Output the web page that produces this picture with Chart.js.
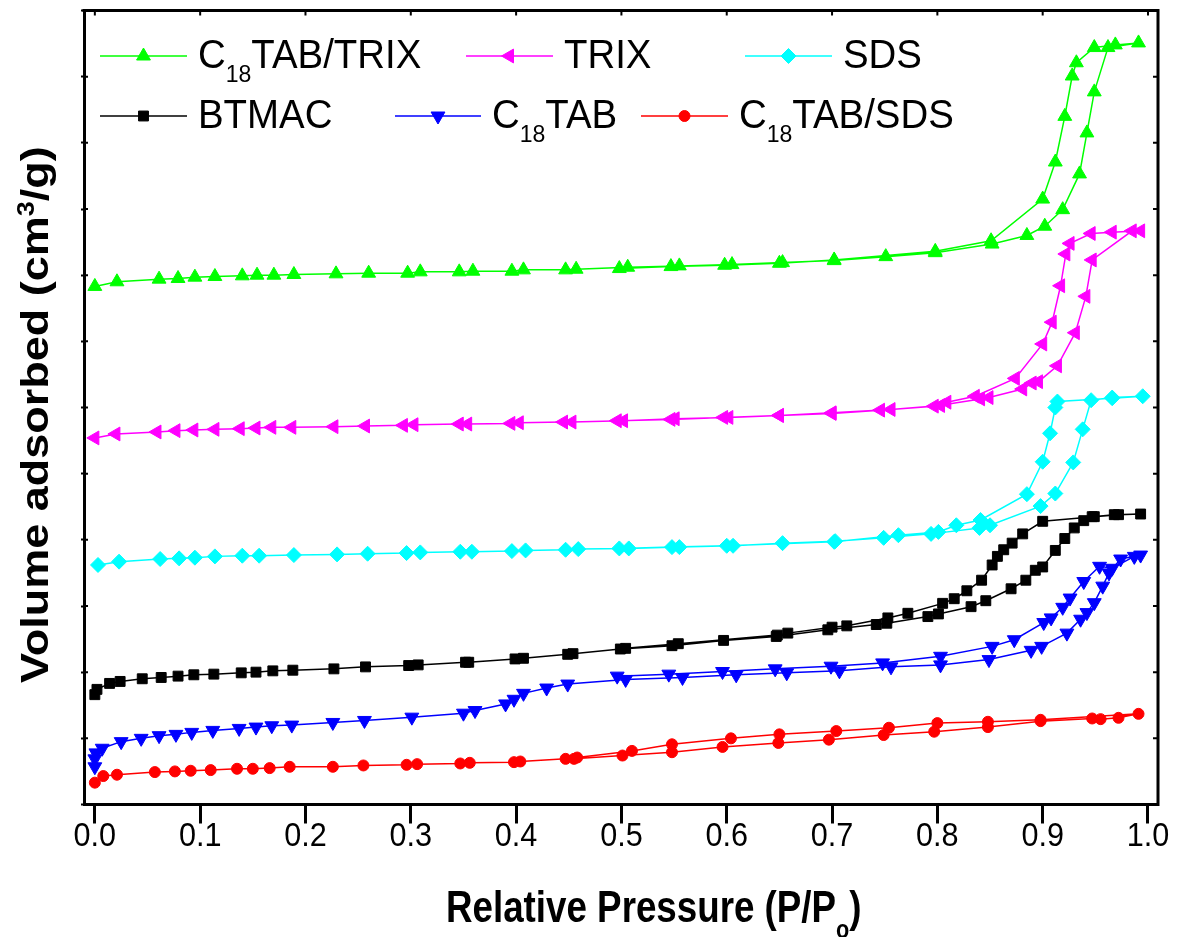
<!DOCTYPE html>
<html>
<head>
<meta charset="utf-8">
<script src="https://cdn.jsdelivr.net/npm/chart.js@4.4.0/dist/chart.umd.min.js"></script>
<style>
  html, body { margin: 0; padding: 0; background: #fff; }
  #wrap { width: 1179px; height: 937px; }
</style>
</head>
<body>
<div id="wrap"><canvas id="isotermas" width="1179" height="937"></canvas></div>
<script>
// Eixos
const pressaoTicks = [0, 0.1, 0.2, 0.3, 0.4, 0.5, 0.6, 0.7, 0.8, 0.9, 1.0];
const volumeTicks = [0, 1, 2, 3, 4, 5, 6, 7, 8, 9, 10, 11, 12];

// C18TAB/TRIX (adsorcao e depois dessorcao)
const c18trixP = [0.000,0.021,0.061,0.079,0.095,0.114,0.140,0.154,0.170,0.189,0.229,0.260,0.297,0.309,0.346,0.359,0.396,0.407,0.447,0.457,0.506,0.555,0.605,0.653,0.702,0.751,0.798,0.852,0.885,0.902,0.919,0.935,0.942,0.949,0.962,0.991,
  0.969,0.949,0.932,0.928,0.921,0.912,0.900,0.851,0.798,0.702,0.650,0.598,0.547,0.498];
const c18trixV = [7.83,7.90,7.94,7.95,7.97,7.98,7.99,8.00,8.00,8.01,8.02,8.03,8.03,8.05,8.05,8.06,8.06,8.08,8.08,8.09,8.12,8.14,8.16,8.19,8.22,8.28,8.34,8.47,8.60,8.74,8.99,9.53,10.15,10.77,11.44,11.51,
  11.48,11.44,11.21,11.01,10.40,9.71,9.15,8.52,8.36,8.23,8.18,8.15,8.13,8.10];

// TRIX
const trixP = [0.000,0.020,0.059,0.077,0.094,0.114,0.138,0.153,0.168,0.187,0.227,0.257,0.293,0.303,0.346,0.354,0.395,0.403,0.445,0.453,0.502,0.551,0.602,0.650,0.700,0.746,0.797,0.841,0.849,0.881,0.890,0.896,0.914,0.931,0.941,0.947,0.985,0.993,
  0.966,0.946,0.926,0.922,0.917,0.909,0.900,0.874,0.836,0.809,0.803,0.756,0.700,0.650,0.597,0.547,0.496];
const trixV = [5.54,5.60,5.63,5.65,5.66,5.67,5.68,5.69,5.70,5.70,5.71,5.72,5.73,5.74,5.75,5.75,5.76,5.77,5.78,5.78,5.80,5.83,5.85,5.88,5.91,5.96,6.02,6.13,6.15,6.28,6.37,6.39,6.63,7.13,7.68,8.23,8.67,8.67,
  8.65,8.63,8.48,8.32,7.84,7.29,6.96,6.44,6.17,6.08,6.03,5.97,5.92,5.88,5.85,5.82,5.80];

// SDS
const sdsP = [0.003,0.023,0.062,0.080,0.095,0.114,0.140,0.156,0.189,0.230,0.259,0.296,0.309,0.347,0.358,0.396,0.409,0.447,0.459,0.507,0.555,0.606,0.653,0.703,0.749,0.794,0.840,0.850,0.898,0.912,0.929,0.938,0.946,0.966,0.995,
  0.966,0.914,0.912,0.907,0.900,0.885,0.841,0.818,0.801,0.763,0.702,0.600,0.548,0.498];
const sdsV = [3.62,3.67,3.71,3.72,3.73,3.75,3.76,3.76,3.77,3.78,3.79,3.80,3.81,3.82,3.82,3.83,3.84,3.85,3.86,3.87,3.89,3.91,3.95,3.98,4.03,4.09,4.18,4.22,4.51,4.70,5.17,5.67,6.11,6.15,6.17,
  6.14,6.09,6.00,5.61,5.18,4.69,4.30,4.22,4.12,4.07,3.97,3.91,3.89,3.87];

// BTMAC
const btmacP = [0.000,0.002,0.014,0.024,0.045,0.063,0.079,0.094,0.113,0.139,0.153,0.169,0.188,0.227,0.257,0.298,0.307,0.352,0.355,0.399,0.407,0.449,0.454,0.499,0.548,0.597,0.647,0.696,0.742,0.752,0.791,0.801,0.832,0.846,0.870,0.884,0.893,0.900,0.912,0.921,0.930,0.939,0.947,0.968,0.993,
  0.972,0.949,0.900,0.881,0.871,0.863,0.857,0.852,0.842,0.828,0.816,0.805,0.772,0.753,0.714,0.700,0.658,0.648,0.554,0.504];
const btmacV = [1.66,1.74,1.83,1.86,1.90,1.92,1.94,1.96,1.97,1.99,2.00,2.02,2.03,2.05,2.08,2.10,2.11,2.15,2.15,2.20,2.21,2.27,2.28,2.35,2.40,2.48,2.54,2.64,2.72,2.74,2.84,2.88,2.99,3.08,3.26,3.39,3.54,3.59,3.84,4.02,4.18,4.29,4.35,4.38,4.39,
  4.38,4.35,4.28,4.09,3.95,3.85,3.75,3.62,3.39,3.23,3.11,3.04,2.89,2.82,2.70,2.68,2.59,2.56,2.43,2.36];

// C18TAB
const c18tabP = [0.000,0.000,0.001,0.007,0.025,0.044,0.061,0.077,0.092,0.112,0.137,0.153,0.168,0.187,0.226,0.256,0.301,0.350,0.361,0.390,0.398,0.407,0.429,0.449,0.504,0.558,0.609,0.657,0.707,0.756,0.803,0.849,0.889,0.899,0.923,0.936,0.942,0.949,0.957,0.963,0.974,0.993,
  0.987,0.966,0.954,0.939,0.926,0.919,0.908,0.901,0.873,0.852,0.803,0.748,0.699,0.646,0.596,0.545,0.496];
const c18tabV = [0.57,0.69,0.78,0.85,0.95,1.00,1.04,1.06,1.09,1.12,1.15,1.17,1.19,1.20,1.24,1.27,1.32,1.38,1.42,1.52,1.59,1.68,1.76,1.82,1.89,1.92,1.96,1.99,2.02,2.08,2.11,2.19,2.33,2.39,2.59,2.80,2.90,3.05,3.30,3.50,3.71,3.77,
  3.75,3.57,3.60,3.37,3.12,2.98,2.82,2.75,2.49,2.39,2.24,2.14,2.09,2.05,2.01,1.97,1.94];

// C18TAB/SDS
const c18sdsP = [0.000,0.008,0.021,0.057,0.076,0.091,0.110,0.135,0.150,0.166,0.185,0.226,0.255,0.296,0.306,0.347,0.356,0.398,0.404,0.447,0.455,0.501,0.548,0.596,0.649,0.697,0.749,0.797,0.848,0.898,0.947,0.955,0.972,0.991,
  0.898,0.848,0.800,0.754,0.704,0.650,0.604,0.548,0.510,0.458];
const c18sdsV = [0.33,0.43,0.45,0.49,0.50,0.51,0.52,0.54,0.54,0.55,0.57,0.57,0.59,0.60,0.61,0.62,0.63,0.64,0.65,0.69,0.69,0.74,0.79,0.87,0.93,0.98,1.05,1.10,1.17,1.26,1.30,1.29,1.31,1.37,
  1.28,1.25,1.23,1.16,1.11,1.06,1.00,0.91,0.81,0.71];

const FONTE = '"Liberation Sans", Arial, sans-serif';

const pontos = (p, v) => p.map((x, i) => ({ x, y: v[i] }));

// Legenda: [texto em partes, linha (x0, x1), linha da legenda]
const series = [
  { nome: [['C'], ['18', 'sub'], ['TAB/TRIX']], p: c18trixP, v: c18trixV, cor: '#00ff00', estilo: 'triangle', rot: 0, raio: 8, leg: [100, 187, 0] },
  { nome: [['TRIX']], p: trixP, v: trixV, cor: '#ff00ff', estilo: 'triangle', rot: -90, raio: 8, leg: [466, 553, 0] },
  { nome: [['SDS']], p: sdsP, v: sdsV, cor: '#00ffff', estilo: 'rectRot', raio: 7.5, rot: 0, leg: [745, 832, 0] },
  { nome: [['BTMAC']], p: btmacP, v: btmacV, cor: '#000000', estilo: 'rect', raio: 7, rot: 0, leg: [100, 187, 1] },
  { nome: [['C'], ['18', 'sub'], ['TAB']], p: c18tabP, v: c18tabV, cor: '#0000ff', estilo: 'triangle', rot: 180, raio: 8, leg: [395, 481, 1] },
  { nome: [['C'], ['18', 'sub'], ['TAB/SDS']], p: c18sdsP, v: c18sdsV, cor: '#ff0000', estilo: 'circle', rot: 0, raio: 5.5, leg: [641, 728, 1] }
];

// Texto com subscrito / sobrescrito, comprimido na horizontal
function textoMisto(ctx, partes, x, y, tam, peso, escala) {
  ctx.save();
  ctx.translate(x, y);
  ctx.scale(escala, 1);
  let cx = 0;
  partes.forEach(([txt, tipo]) => {
    const t = tipo ? Math.round(tam * 0.6) : tam;
    ctx.font = `${peso} ${t}px ${FONTE}`;
    const dy = tipo === 'sub' ? tam * 0.36 : tipo === 'sup' ? -tam * 0.36 : 0;
    ctx.fillText(txt, cx, dy);
    cx += ctx.measureText(txt).width;
  });
  ctx.restore();
  return cx * escala;
}

function marcador(ctx, s, x, y) {
  ctx.fillStyle = s.cor;
  ctx.strokeStyle = s.cor;
  ctx.lineWidth = 1;
  Chart.helpers.drawPoint(ctx, { pointStyle: s.estilo, rotation: s.rot, radius: s.raio, borderWidth: 1 }, x, y);
}

const extras = {
  id: 'extras',
  afterDraw(chart) {
    const { ctx, chartArea: a, scales: { x, y } } = chart;
    ctx.save();

    // moldura superior e direita + ticks internos
    ctx.strokeStyle = '#000';
    ctx.lineWidth = 3;
    ctx.beginPath();
    ctx.moveTo(a.left - 1.5, a.top);
    ctx.lineTo(a.right, a.top);
    ctx.lineTo(a.right, a.bottom + 1.5);
    ctx.stroke();
    ctx.lineWidth = 2;
    ctx.beginPath();
    x.ticks.forEach((t) => {
      const px = x.getPixelForValue(t.value);
      ctx.moveTo(px, a.top);
      ctx.lineTo(px, a.top + 5);
    });
    y.ticks.forEach((t) => {
      const py = y.getPixelForValue(t.value);
      ctx.moveTo(a.right, py);
      ctx.lineTo(a.right - 5, py);
      ctx.moveTo(a.left, py);
      ctx.lineTo(a.left + 4, py);
    });
    ctx.stroke();

    // rotulos do eixo x
    ctx.fillStyle = '#000';
    ctx.textBaseline = 'alphabetic';
    x.ticks.forEach((t) => {
      const px = x.getPixelForValue(t.value);
      const txt = t.value.toFixed(1);
      ctx.font = `34px ${FONTE}`;
      const w = ctx.measureText(txt).width * 0.9;
      textoMisto(ctx, [[txt]], px - w / 2, 846, 34, 'normal', 0.9);
    });

    // titulo do eixo x
    textoMisto(ctx, [['Relative Pressure (P/P'], ['o', 'sub'], [')']], 446, 922, 44, 'bold', 0.835);

    // titulo do eixo y (rotacionado)
    ctx.save();
    ctx.translate(48, 683);
    ctx.rotate(-Math.PI / 2);
    ctx.scale(1, 0.87);
    textoMisto(ctx, [['Volume adsorbed (cm'], ['3', 'sup'], ['/g)']], 0, 0, 45, 'bold', 1);
    ctx.restore();

    // legenda
    const linhasY = [56, 116];
    series.forEach((s) => {
      const [x0, x1, lin] = s.leg;
      const ly = linhasY[lin];
      ctx.strokeStyle = s.cor;
      ctx.lineWidth = 1.5;
      ctx.beginPath();
      ctx.moveTo(x0, ly);
      ctx.lineTo(x1, ly);
      ctx.stroke();
      marcador(ctx, s, (x0 + x1) / 2, ly);
      ctx.fillStyle = '#000';
      textoMisto(ctx, s.nome, x1 + 11, ly + 12, 40, 'normal', 0.96);
    });

    ctx.restore();
  }
};

const ctx = document.getElementById('isotermas').getContext('2d');
const grafico = new Chart(ctx, {
  type: 'scatter',
  data: {
    datasets: series.map((s) => ({
      label: s.nome.map((n) => n[0]).join(''),
      data: pontos(s.p, s.v),
      showLine: true,
      tension: 0,
      borderColor: s.cor,
      borderWidth: 1.5,
      pointStyle: s.estilo,
      rotation: s.rot,
      pointRadius: s.raio,
      pointBackgroundColor: s.cor,
      pointBorderColor: s.cor,
      pointBorderWidth: 1
    }))
  },
  options: {
    responsive: false,
    animation: false,
    devicePixelRatio: 1,
    layout: { padding: { top: 10.5, right: 21, left: 0, bottom: 0 } },
    plugins: { legend: { display: false }, tooltip: { enabled: false } },
    scales: {
      x: {
        type: 'linear',
        min: -0.0103,
        max: 1.0095,
        afterBuildTicks: (s) => { s.ticks = pressaoTicks.map((v) => ({ value: v })); },
        afterFit: (s) => { s.height = 937 - 804.5; },
        ticks: { display: false },
        border: { display: true, color: '#000', width: 3 },
        grid: { display: true, drawOnChartArea: false, drawTicks: true, tickLength: 19, tickWidth: 3, tickColor: '#000' }
      },
      y: {
        type: 'linear',
        min: 0,
        max: 12,
        afterBuildTicks: (s) => { s.ticks = volumeTicks.map((v) => ({ value: v })); },
        afterFit: (s) => { s.width = 84; },
        ticks: { display: false },
        border: { display: true, color: '#000', width: 3 },
        grid: { display: true, drawOnChartArea: false, drawTicks: true, tickLength: 3, tickWidth: 2, tickColor: '#000' }
      }
    }
  },
  plugins: [extras]
});
</script>
</body>
</html>
